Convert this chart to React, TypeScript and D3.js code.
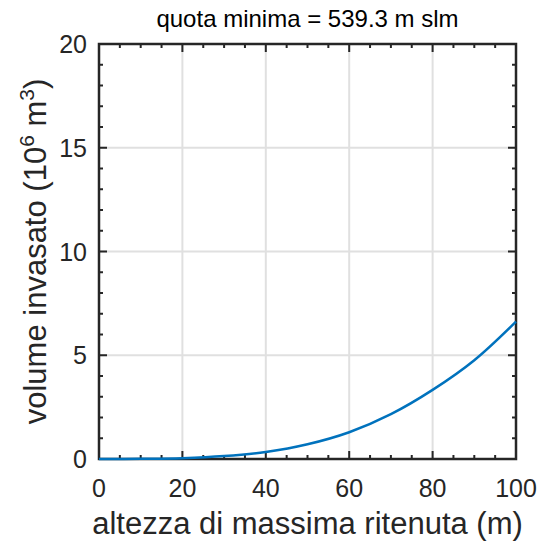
import React from "react";
import * as d3 from "d3";

// altezza (m) vs volume invasato (10^6 m^3)
const altezza = [0, 10, 20, 30, 40, 50, 60, 70, 80, 90, 100];
const volume = [0, 0.01, 0.04, 0.14, 0.34, 0.71, 1.29, 2.16, 3.33, 4.76, 6.62];
const xTicks = [0, 20, 40, 60, 80, 100];
const yTicks = [0, 5, 10, 15, 20];

const W = 542, H = 546;
const margin = { top: 44, right: 26, bottom: 87, left: 99 };
const FONT = "'Liberation Sans', Arial, sans-serif";
const AXIS = "#262626";

export default function App() {
  const iw = W - margin.left - margin.right;
  const ih = H - margin.top - margin.bottom;
  const x = d3.scaleLinear().domain([0, 100]).range([0, iw]);
  const y = d3.scaleLinear().domain([0, 20]).range([ih, 0]);

  const line = d3
    .line<number>()
    .x((d, i) => x(altezza[i]))
    .y((d) => y(d))
    .curve(d3.curveCatmullRom.alpha(0.5));

  const xMinor = d3.range(0, 101, 5).filter((v) => v % 20 !== 0);
  const yMinor = d3.range(0, 21, 1).filter((v) => v % 5 !== 0);

  return (
    <svg width={W} height={H} style={{ position: "absolute", left: 0, top: 0 }}>
      <rect width={W} height={H} fill="#fff" />
      <text x={margin.left + iw / 2} y={27} textAnchor="middle" fontFamily={FONT} fontSize={24} fill="#000">
        quota minima = 539.3 m slm
      </text>
      <g transform={`translate(${margin.left},${margin.top})`}>
        {/* grid */}
        {xTicks.slice(1, -1).map((t) => (
          <line key={"gx" + t} x1={x(t)} x2={x(t)} y1={0} y2={ih} stroke="#e0e0e0" strokeWidth={2} />
        ))}
        {yTicks.slice(1, -1).map((t) => (
          <line key={"gy" + t} x1={0} x2={iw} y1={y(t)} y2={y(t)} stroke="#e0e0e0" strokeWidth={2} />
        ))}
        {/* ticks */}
        {xTicks.map((t) => (
          <g key={"tx" + t}>
            <line x1={x(t)} x2={x(t)} y1={ih} y2={ih - 8} stroke={AXIS} strokeWidth={2} />
            <line x1={x(t)} x2={x(t)} y1={0} y2={8} stroke={AXIS} strokeWidth={2} />
            <text x={x(t)} y={ih + 38} textAnchor="middle" fontFamily={FONT} fontSize={25} fill={AXIS}>
              {t}
            </text>
          </g>
        ))}
        {xMinor.map((t) => (
          <g key={"mx" + t}>
            <line x1={x(t)} x2={x(t)} y1={ih} y2={ih - 4} stroke={AXIS} strokeWidth={2} />
            <line x1={x(t)} x2={x(t)} y1={0} y2={4} stroke={AXIS} strokeWidth={2} />
          </g>
        ))}
        {yTicks.map((t) => (
          <g key={"ty" + t}>
            <line x1={0} x2={8} y1={y(t)} y2={y(t)} stroke={AXIS} strokeWidth={2} />
            <line x1={iw} x2={iw - 8} y1={y(t)} y2={y(t)} stroke={AXIS} strokeWidth={2} />
            <text x={-12} y={y(t)} dy="0.36em" textAnchor="end" fontFamily={FONT} fontSize={25} fill={AXIS}>
              {t}
            </text>
          </g>
        ))}
        {yMinor.map((t) => (
          <g key={"my" + t}>
            <line x1={0} x2={4} y1={y(t)} y2={y(t)} stroke={AXIS} strokeWidth={2} />
            <line x1={iw} x2={iw - 4} y1={y(t)} y2={y(t)} stroke={AXIS} strokeWidth={2} />
          </g>
        ))}
        <rect x={0} y={0} width={iw} height={ih} fill="none" stroke={AXIS} strokeWidth={2.5} />
        {/* curve on top of the box */}
        <path d={line(volume) || ""} fill="none" stroke="#0072BD" strokeWidth={2.5} />
        {/* axis labels */}
        <text x={iw / 2} y={ih + 75} textAnchor="middle" fontFamily={FONT} fontSize={31} fill={AXIS}>
          altezza di massima ritenuta (m)
        </text>
        <text
          transform={`translate(${-53},${ih / 2}) rotate(-90)`}
          textAnchor="middle"
          fontFamily={FONT}
          fontSize={31}
          fill={AXIS}
        >
          volume invasato (10
          <tspan fontSize={21} dy={-12}>6</tspan>
          <tspan dy={12}> m</tspan>
          <tspan fontSize={21} dy={-12}>3</tspan>
          <tspan dy={12}>)</tspan>
        </text>
      </g>
    </svg>
  );
}
